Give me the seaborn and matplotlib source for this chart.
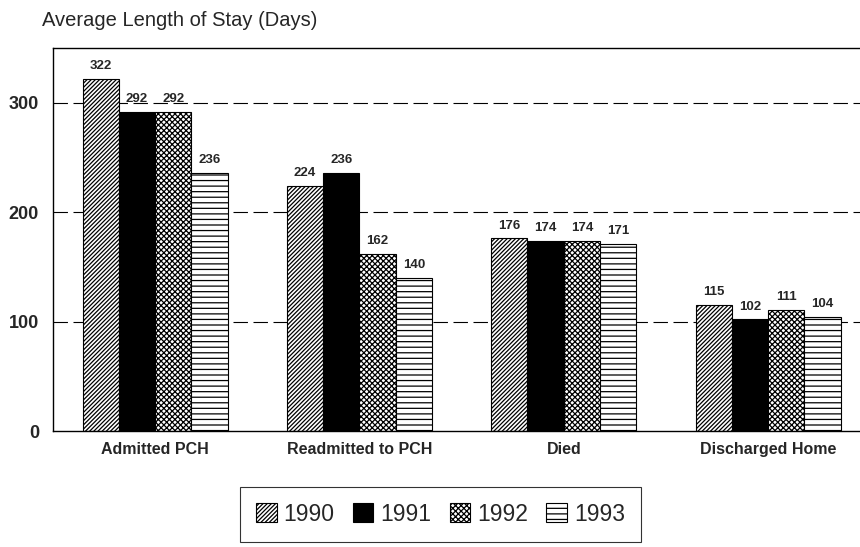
import pandas as pd
import seaborn as sns
import matplotlib.pyplot as plt

categories = ['Admitted PCH', 'Readmitted to PCH', 'Died', 'Discharged Home']
years = ['1990', '1991', '1992', '1993']
stay_1990 = [322, 224, 176, 115]
stay_1991 = [292, 236, 174, 102]
stay_1992 = [292, 162, 174, 111]
stay_1993 = [236, 140, 171, 104]

rows = []
for yr, vals in zip(years, [stay_1990, stay_1991, stay_1992, stay_1993]):
    for cat, v in zip(categories, vals):
        rows.append({'category': cat, 'year': yr, 'days': v})
data = pd.DataFrame(rows)

sns.set_style('white')
plt.rcParams['font.family'] = ['Liberation Sans', 'DejaVu Sans']
plt.rcParams['hatch.linewidth'] = 0.9

fig = plt.figure(figsize=(8.6, 5.47), dpi=100)
ax = fig.add_axes([0.0616, 0.212, 0.9384, 0.700])

sns.barplot(data=data, x='category', y='days', hue='year', order=categories,
            hue_order=years, palette=['white'] * 4, edgecolor='black',
            linewidth=0.8, width=0.71, ax=ax, legend=False)

hatches = ['////////', '', 'xxxxxx', '---']
faces = ['white', 'black', 'white', 'white']
for cont, h, fc in zip(ax.containers, hatches, faces):
    for bar in cont:
        bar.set_hatch(h)
        bar.set_facecolor(fc)
    ax.bar_label(cont, padding=5, fontsize=9.5, fontweight='bold')

ax.set_xlim(-0.5, 3.45)
ax.set_ylim(0, 350)
ax.set_yticks([0, 100, 200, 300])
ax.tick_params(axis='y', labelsize=13, length=0, pad=10)
ax.tick_params(axis='x', labelsize=11.5, length=0, pad=8)
for lbl in ax.get_yticklabels() + ax.get_xticklabels():
    lbl.set_fontweight('bold')
ax.set_xlabel('')
ax.set_ylabel('')
for y in [100, 200, 300]:
    ax.axhline(y, color='black', linestyle=(0, (13, 5)), linewidth=0.8, zorder=0)

for side in ['left', 'top', 'bottom']:
    ax.spines[side].set_color('black')
    ax.spines[side].set_linewidth(1.0)
ax.spines['right'].set_visible(False)

fig.text(0.049, 0.962, 'Average Length of Stay (Days)', fontsize=14.5,
         ha='left', va='center')

handles = [c[0] for c in ax.containers]
leg = fig.legend(handles, years, loc='upper center',
                 bbox_to_anchor=(0.512, 0.11), ncol=4, fontsize=16.5,
                 frameon=True, fancybox=False, edgecolor='black',
                 handlelength=0.9, handleheight=0.9, handletextpad=0.3,
                 columnspacing=0.8, borderpad=0.7, borderaxespad=0)
leg.get_frame().set_linewidth(0.8)

fig.savefig('out.png', dpi=100)
